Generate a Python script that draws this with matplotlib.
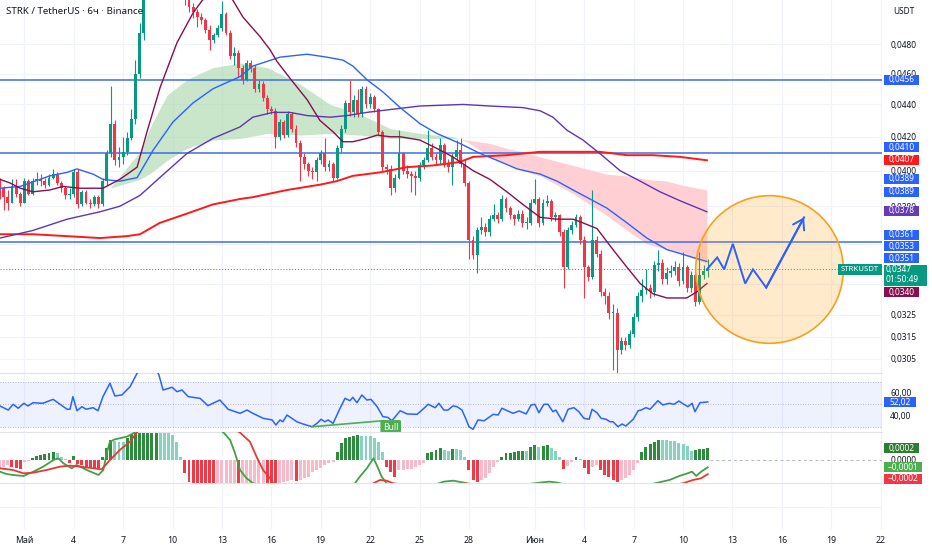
import numpy as np
import matplotlib.pyplot as plt
from matplotlib.patches import Rectangle
from matplotlib.ticker import FuncFormatter, NullLocator

plt.rcParams['font.family'] = ['Noto Sans', 'DejaVu Sans']

W, H = 932, 550
TXT = '#131722'
GRID = '#F0F3FA'
UP, DOWN = '#089981', '#F23645'

# 6h candles, 29 Apr 12:00 .. 11 Jun 12:00 (index 0..172)
first_open = 0.0393
closes = [
    0.0390, 0.0385, 0.0382, 0.0391, 0.0387, 0.0382, 0.0394, 0.0387, 0.0394, 0.0395,
    0.0394, 0.0392, 0.0396, 0.0398, 0.0393, 0.0390, 0.0386, 0.0387, 0.0399, 0.0381,
    0.0388, 0.0382, 0.0381, 0.0385, 0.0381, 0.0394, 0.0410, 0.0428, 0.0406, 0.0408,
    0.0411, 0.0419, 0.0431, 0.0460, 0.0488, 0.0525, 0.0560, 0.0595, 0.0570, 0.0615,
    0.0600, 0.0580, 0.0590, 0.0560, 0.0545, 0.0513, 0.0506, 0.0503, 0.0499, 0.0497,
    0.0490, 0.0483, 0.0486, 0.0491, 0.0501, 0.0488, 0.0472, 0.0474, 0.0464, 0.0456,
    0.0467, 0.0464, 0.0450, 0.0453, 0.0444, 0.0437, 0.0436, 0.0420, 0.0429, 0.0421,
    0.0434, 0.0425, 0.0416, 0.0408, 0.0404, 0.0400, 0.0399, 0.0406, 0.0410, 0.0402,
    0.0404, 0.0396, 0.0413, 0.0425, 0.0441, 0.0435, 0.0443, 0.0434, 0.0450, 0.0440,
    0.0445, 0.0437, 0.0423, 0.0402, 0.0401, 0.0390, 0.0396, 0.0410, 0.0400, 0.0398,
    0.0397, 0.0396, 0.0403, 0.0406, 0.0413, 0.0408, 0.0406, 0.0415, 0.0404, 0.0402,
    0.0408, 0.0412, 0.0404, 0.0393, 0.0362, 0.0354, 0.0367, 0.0369, 0.0366, 0.0373,
    0.0375, 0.0373, 0.0384, 0.0379, 0.0375, 0.0373, 0.0376, 0.0371, 0.0371, 0.0382,
    0.0384, 0.0371, 0.0382, 0.0383, 0.0374, 0.0375, 0.0366, 0.0348, 0.0367, 0.0370,
    0.0374, 0.0362, 0.0348, 0.0343, 0.0362, 0.0355, 0.0336, 0.0334, 0.0326, 0.0326,
    0.0309, 0.0313, 0.0311, 0.0316, 0.0324, 0.0334, 0.0337, 0.0338, 0.0336, 0.0349,
    0.0350, 0.0342, 0.0345, 0.0346, 0.0348, 0.0341, 0.0348, 0.0338, 0.0344, 0.0331,
    0.0344, 0.0346, 0.0347,
]
highs = [
    0.0396, 0.0391, 0.0389, 0.0395, 0.0395, 0.0388, 0.0396, 0.0395, 0.0396, 0.0399,
    0.0398, 0.0396, 0.0398, 0.0401, 0.0399, 0.0394, 0.0391, 0.0390, 0.0401, 0.0401,
    0.0389, 0.0389, 0.0384, 0.0386, 0.0386, 0.0396, 0.0412, 0.0452, 0.0430, 0.0414,
    0.0420, 0.0423, 0.0437, 0.0469, 0.0495, 0.0535, 0.0575, 0.0610, 0.0600, 0.0630,
    0.0620, 0.0605, 0.0605, 0.0595, 0.0565, 0.0548, 0.0520, 0.0509, 0.0505, 0.0502,
    0.0498, 0.0493, 0.0488, 0.0493, 0.0511, 0.0503, 0.0490, 0.0478, 0.0476, 0.0466,
    0.0469, 0.0469, 0.0466, 0.0456, 0.0455, 0.0446, 0.0439, 0.0438, 0.0431, 0.0430,
    0.0436, 0.0435, 0.0427, 0.0418, 0.0410, 0.0405, 0.0402, 0.0408, 0.0412, 0.0419,
    0.0406, 0.0405, 0.0415, 0.0427, 0.0443, 0.0456, 0.0446, 0.0450, 0.0452, 0.0452,
    0.0447, 0.0446, 0.0438, 0.0424, 0.0404, 0.0403, 0.0398, 0.0424, 0.0411, 0.0403,
    0.0400, 0.0400, 0.0405, 0.0408, 0.0424, 0.0416, 0.0410, 0.0419, 0.0416, 0.0407,
    0.0410, 0.0418, 0.0419, 0.0407, 0.0394, 0.0364, 0.0369, 0.0374, 0.0371, 0.0375,
    0.0381, 0.0377, 0.0386, 0.0385, 0.0380, 0.0376, 0.0378, 0.0378, 0.0374, 0.0384,
    0.0395, 0.0385, 0.0384, 0.0386, 0.0384, 0.0377, 0.0376, 0.0368, 0.0369, 0.0372,
    0.0376, 0.0375, 0.0364, 0.0349, 0.0389, 0.0364, 0.0357, 0.0338, 0.0336, 0.0330,
    0.0328, 0.0315, 0.0315, 0.0318, 0.0326, 0.0336, 0.0342, 0.0347, 0.0340, 0.0351,
    0.0357, 0.0352, 0.0348, 0.0349, 0.0351, 0.0350, 0.0356, 0.0349, 0.0346, 0.0346,
    0.0356, 0.0349, 0.0352,
]
lows = [
    0.0384, 0.0378, 0.0378, 0.0382, 0.0385, 0.0380, 0.0382, 0.0386, 0.0386, 0.0392,
    0.0391, 0.0390, 0.0391, 0.0395, 0.0392, 0.0388, 0.0384, 0.0384, 0.0385, 0.0379,
    0.0380, 0.0381, 0.0379, 0.0380, 0.0379, 0.0380, 0.0392, 0.0408, 0.0403, 0.0402,
    0.0404, 0.0409, 0.0418, 0.0428, 0.0457, 0.0483, 0.0520, 0.0550, 0.0555, 0.0565,
    0.0575, 0.0565, 0.0570, 0.0550, 0.0530, 0.0508, 0.0503, 0.0498, 0.0492, 0.0494,
    0.0488, 0.0476, 0.0481, 0.0485, 0.0489, 0.0486, 0.0470, 0.0466, 0.0458, 0.0453,
    0.0455, 0.0461, 0.0448, 0.0448, 0.0442, 0.0434, 0.0434, 0.0413, 0.0418, 0.0419,
    0.0420, 0.0423, 0.0414, 0.0394, 0.0401, 0.0397, 0.0395, 0.0394, 0.0404, 0.0400,
    0.0400, 0.0394, 0.0395, 0.0411, 0.0423, 0.0433, 0.0432, 0.0432, 0.0432, 0.0438,
    0.0438, 0.0435, 0.0421, 0.0400, 0.0398, 0.0386, 0.0388, 0.0395, 0.0398, 0.0396,
    0.0388, 0.0386, 0.0394, 0.0401, 0.0405, 0.0406, 0.0403, 0.0404, 0.0402, 0.0399,
    0.0392, 0.0406, 0.0402, 0.0391, 0.0352, 0.0352, 0.0345, 0.0365, 0.0364, 0.0364,
    0.0372, 0.0371, 0.0372, 0.0377, 0.0373, 0.0370, 0.0372, 0.0369, 0.0368, 0.0370,
    0.0381, 0.0369, 0.0370, 0.0380, 0.0372, 0.0372, 0.0364, 0.0338, 0.0347, 0.0365,
    0.0369, 0.0360, 0.0333, 0.0341, 0.0342, 0.0353, 0.0334, 0.0330, 0.0323, 0.0300,
    0.0299, 0.0307, 0.0309, 0.0310, 0.0315, 0.0322, 0.0331, 0.0335, 0.0333, 0.0334,
    0.0346, 0.0340, 0.0340, 0.0343, 0.0344, 0.0339, 0.0340, 0.0336, 0.0336, 0.0329,
    0.0330, 0.0342, 0.0343,
]

# moving averages: (candle index, price)
ma20_idx = [0.1, 2.5, 5.0, 8.1, 12.2, 15.4, 19.5, 24.4, 25.1, 29.2, 33.4, 35.8, 39.0, 43.1,
            47.0, 49.2, 52.5, 55.0, 56.7, 59.1, 63.3, 65.7, 67.4, 70.5, 74.7, 77.8, 81.0,
            83.4, 85.8, 89.2, 91.7, 94.8, 97.3, 102.1, 106.2, 110.1, 115.0, 119.1, 123.2,
            127.1, 131.3, 135.4, 139.3, 141.7, 145.1, 149.0, 152.4, 155.6, 158.7, 162.1,
            166.9, 169.4, 171.8]
ma20 = [0.0395, 0.0393, 0.0390, 0.0388, 0.0389, 0.0391, 0.0390, 0.0390, 0.0390, 0.0395,
        0.0402, 0.0423, 0.0451, 0.0481, 0.0502, 0.0511, 0.0520, 0.0519, 0.0511, 0.0499,
        0.0485, 0.0476, 0.0468, 0.0457, 0.0443, 0.0430, 0.0423, 0.0417, 0.0417, 0.0419,
        0.0421, 0.0420, 0.0420, 0.0418, 0.0413, 0.0408, 0.0400, 0.0395, 0.0388, 0.0381,
        0.0374, 0.0373, 0.0373, 0.0371, 0.0368, 0.0357, 0.0348, 0.0340, 0.0335, 0.0333,
        0.0333, 0.0336, 0.0340]
ma50_idx = [0.1, 5.0, 12.2, 16.4, 18.8, 22.7, 25.1, 29.2, 33.4, 37.3, 42.1, 47.0, 51.8,
            58.4, 61.5, 68.1, 74.7, 79.5, 83.4, 85.8, 89.2, 93.1, 97.3, 102.1, 106.2,
            111.8, 116.7, 120.8, 125.7, 131.3, 135.4, 139.3, 143.4, 147.5, 152.4, 157.2,
            162.1, 165.3, 168.4, 171.8]
ma50 = [0.0390, 0.0391, 0.0397, 0.0399, 0.0401, 0.0398, 0.0395, 0.0394, 0.0396, 0.0412,
        0.0429, 0.0441, 0.0450, 0.0458, 0.0465, 0.0471, 0.0473, 0.0471, 0.0469, 0.0465,
        0.0456, 0.0448, 0.0438, 0.0428, 0.0422, 0.0416, 0.0410, 0.0406, 0.0401, 0.0398,
        0.0394, 0.0389, 0.0384, 0.0379, 0.0371, 0.0363, 0.0357, 0.0355, 0.0353, 0.0351]
ma100_idx = [0.1, 8.1, 16.4, 24.4, 29.2, 34.1, 38.9, 45.5, 51.8, 58.4, 61.5, 66.4, 70.5,
             74.7, 80.3, 84.4, 89.2, 95.6, 102.1, 112.6, 119.1, 127.1, 131.3, 134.4,
             137.8, 141.7, 145.8, 150.7, 155.6, 160.4, 165.3, 171.8]
ma100 = [0.0363, 0.0367, 0.0373, 0.0377, 0.0380, 0.0386, 0.0396, 0.0410, 0.0419, 0.0426,
         0.0432, 0.0435, 0.0435, 0.0433, 0.0432, 0.0433, 0.0435, 0.0437, 0.0439, 0.0440,
         0.0439, 0.0438, 0.0436, 0.0432, 0.0424, 0.0418, 0.0410, 0.0400, 0.0394, 0.0388,
         0.0383, 0.0377]
ma200_idx = [0.1, 8.1, 16.4, 24.4, 30.9, 34.1, 38.9, 45.5, 51.8, 58.4, 61.5, 69.8, 77.8,
             81.9, 85.8, 92.4, 98.9, 105.3, 111.8, 115.0, 123.2, 131.3, 139.3, 145.8,
             152.4, 158.7, 165.3, 171.8]
ma200 = [0.0365, 0.0365, 0.0364, 0.0363, 0.0364, 0.0365, 0.0371, 0.0376, 0.0381, 0.0384,
         0.0385, 0.0389, 0.0392, 0.0394, 0.0397, 0.0399, 0.0402, 0.0403, 0.0405, 0.0408,
         0.0409, 0.0411, 0.0411, 0.0411, 0.0409, 0.0409, 0.0408, 0.0406]

# cloud between two averages
cloud_idx = [26.8, 34.1, 37.0, 40.7, 45.5, 51.8, 58.4, 65.0, 73.0, 80.3, 87.5, 94.8, 102.1,
             110.1, 113.5, 119.1, 123.2, 127.1, 131.3, 139.3, 147.5, 152.4, 157.2, 162.1,
             165.3, 171.8]
cloud_fast = [0.0390, 0.0411, 0.0428, 0.0446, 0.0456, 0.0464, 0.0467, 0.0464, 0.0453,
              0.0440, 0.0434, 0.0425, 0.0422, 0.0420, 0.0417, 0.0408, 0.0404, 0.0400,
              0.0397, 0.0387, 0.0375, 0.0367, 0.0360, 0.0357, 0.0355, 0.0350]
cloud_slow = [0.0390, 0.0395, 0.0399, 0.0406, 0.0413, 0.0418, 0.0419, 0.0422, 0.0421,
              0.0422, 0.0421, 0.0419, 0.0419, 0.0419, 0.0418, 0.0416, 0.0413, 0.0411,
              0.0408, 0.0403, 0.0398, 0.0397, 0.0395, 0.0394, 0.0392, 0.0389]

levels = [0.0456, 0.0410, 0.0361]
last_price = 0.0347

# projected path (index, price)
path_idx = [171.8, 174.3, 176.0, 178.1, 181.1, 183.0, 186.2, 195.4]
path_price = [0.0347, 0.0353, 0.0347, 0.0360, 0.0340, 0.0347, 0.0338, 0.0374]
circle_center = (187.0, 0.0347)

# RSI
rsi_idx = [0.1, 2.1, 3.3, 4.5, 5.9, 6.9, 8.1, 10.5, 13.0, 14.7, 16.4, 17.1, 17.8, 18.8,
           20.0, 21.0, 22.7, 23.9, 25.1, 26.8, 28.0, 29.7, 31.7, 33.4, 35.5, 37.5, 38.7,
           39.7, 41.9, 43.1, 44.3, 45.8, 48.7, 50.6, 53.5, 55.5, 58.4, 60.1, 61.5, 64.0,
           66.2, 67.1, 68.1, 68.8, 69.8, 72.2, 73.7, 75.9, 77.1, 78.1, 79.0, 79.8, 81.0,
           82.7, 83.9, 85.1, 85.8, 86.8, 88.0, 89.2, 90.2, 91.7, 93.1, 94.3, 95.3, 97.3,
           99.0, 101.4, 102.6, 104.1, 105.8, 106.7, 107.9, 108.9, 110.1, 111.1, 112.3,
           113.3, 114.0, 115.0, 116.2, 117.7, 119.9, 121.1, 122.0, 124.7, 126.2, 127.9,
           129.1, 130.0, 131.0, 132.2, 133.2, 134.4, 135.1, 136.8, 138.1, 139.5, 140.7,
           141.9, 143.2, 143.9, 145.1, 146.1, 147.3, 148.3, 149.0, 150.2, 151.2, 152.1,
           153.9, 155.1, 155.8, 157.0, 158.0, 159.9, 161.1, 162.6, 163.8, 165.0, 166.2,
           167.2, 168.2, 168.9, 170.1, 172.0]
rsi = [48.4, 44.8, 49.9, 46.4, 50.8, 48.4, 51.3, 50.8, 54.3, 49.9, 45.5, 45.5, 56.7, 44.2,
       47.8, 45.5, 46.9, 44.2, 56.7, 68.6, 57.3, 58.2, 65.6, 77.5, 86, 84, 76, 62.6, 65,
       61.1, 62.6, 56.7, 55.2, 48.7, 53.7, 45.5, 41.9, 44.8, 41.9, 37.5, 36, 31.5, 36,
       34.4, 40.4, 34.4, 32.4, 30, 33, 36.6, 34.4, 36, 33, 46.4, 55.2, 53.1, 56.1, 51.3,
       58.2, 53.7, 54.3, 47.8, 38.9, 38.3, 35.3, 44.2, 41.3, 41, 44.8, 49.9, 46.9, 50.8,
       44.8, 44.8, 48.4, 47.8, 44.8, 36.6, 30, 27.7, 36, 35.3, 41, 40.4, 46.4, 41.9, 44,
       41.3, 49.3, 49.9, 42.4, 49.9, 49.9, 43.3, 44.8, 34.4, 45.5, 46.9, 43.3, 37.5, 36.6,
       45.5, 42.4, 37.5, 36.6, 34.4, 34.4, 30, 32.4, 30.6, 36.6, 44.2, 44.8, 46.9, 45.5,
       53.1, 49.3, 50.8, 49.9, 52.8, 49.9, 47.8, 50.8, 43.3, 51.3, 52.02]
bull_idx = [75.9, 93.1]
bull_rsi = [30.0, 35.3]

# MACD (values in units of 1e-4)
hist = [
    -1.35, -1.08, -0.81, -1.08, -1.35, -1.40, -0.27, -0.11, 0.27, 0.65,
    0.81, 0.98, 1.08, 1.35, 1.08, 0.43, 0.11, -0.54, 0.65, -0.65,
    -0.81, -1.08, -1.19, -1.25, -1.35, 0.43, 1.90, 3.25, 3.14, 2.98,
    2.90, 3.60, 4.20, 5.00, 6.00, 7.00, 7.50, 8.00, 8.20, 7.80,
    7.00, 5.80, 4.07, 2.98, 0.43, -2.17, -3.52, -4.50, -5.20, -5.60,
    -5.80, -6.00, -6.10, -6.00, -5.70, -5.40, -5.10, -4.80, -5.00, -4.80,
    -4.50, -4.30, -4.10, -4.00, -3.90, -4.20, -4.40, -4.50, -4.00, -3.52,
    -3.45, -3.25, -3.40, -3.25, -2.98, -2.71, -1.90, -1.63, -1.35, -0.81,
    -0.54, -0.27, 1.35, 2.71, 3.52, 3.79, 3.90, 4.01, 3.95, 3.93,
    3.90, 3.52, 2.98, 1.35, -1.08, -1.90, -2.71, -1.63, -1.60, -1.52,
    -1.41, -1.19, -0.81, -0.54, 1.08, 1.35, 1.63, 2.00, 1.63, 1.52,
    1.73, 1.72, 1.63, 0.43, -1.63, -3.25, -3.52, -3.25, -2.98, -2.17,
    -1.08, -0.27, 0.43, 1.08, 1.19, 1.35, 1.46, 1.50, 1.45, 2.06,
    2.44, 2.06, 2.28, 2.44, 1.90, 1.46, 0.54, -1.52, -0.98, -0.27,
    0.43, 0.11, -1.35, -2.28, -1.08, -0.81, -1.63, -2.44, -2.82, -3.25,
    -3.52, -3.25, -2.98, -2.44, -1.63, -0.54, 1.35, 2.06, 2.60, 2.98,
    3.25, 3.20, 3.18, 3.14, 3.10, 2.82, 2.60, 2.28, 1.52, 1.63,
    1.79, 1.84, 1.90,
]
macd_idx = [0.1, 1.7, 3.3, 5.8, 8.2, 10.6, 13.1, 14.3, 15.5, 17.5, 18.7, 21.2, 24.0, 25.2,
            26.0, 26.8, 28.0, 30.9, 32.5, 33.3, 38, 45, 50, 54.4, 56.0, 57.2, 58.4, 60.0,
            61.6, 66, 75, 82, 86.3, 87.5, 89.2, 90.8, 91.6, 92.8, 94.0, 100, 106, 107.9,
            110.2, 113.3, 118, 125, 131.9, 133.5, 135.6, 136.8, 145, 150, 158.5, 162.7,
            165.1, 167.1, 168.2, 169.2, 170.4, 172.0]
macd = [-1.90, -2.28, -2.44, -2.60, -1.90, -1.08, 0.0, 0.27, -0.54, -1.35, -0.81, -1.63,
        -2.44, -1.63, 1.08, 2.98, 3.36, 3.79, 4.34, 4.8, 12, 10, 7, 4.45, 3.25, 1.08,
        -1.63, -2.98, -3.79, -7, -6.5, -5, -3.79, -2.71, -1.35, 0.27, -0.81, -2.71,
        -3.79, -5, -3.95, -3.52, -3.36, -3.75, -5, -4.2, -3.63, -3.52, -3.69, -3.90,
        -6, -6.5, -3.9, -3.25, -2.60, -2.17, -1.90, -2.60, -1.90, -1.19]
signal_idx = [0.1, 3.3, 5.8, 8.2, 11.4, 14.7, 17.1, 19.5, 22.8, 24.8, 26.8, 29.2, 31.7,
              33.3, 40, 50, 58.4, 60.8, 62.4, 64.0, 65.7, 66.5, 75, 85, 90.8, 92.4, 94.0,
              95.6, 105, 113.3, 125, 140, 150, 166.0, 168.4, 170.4, 172.0]
signal = [-1.35, -1.63, -2.17, -2.06, -1.63, -1.08, -0.92, -1.08, -1.35, -1.52, 0.0, 1.63,
          2.98, 4.45, 9, 8, 4.45, 2.98, 0.54, -1.63, -2.98, -3.79, -6.5, -5.5, -3.79,
          -3.25, -3.36, -3.79, -4.5, -3.8, -4.6, -5.5, -5.5, -3.79, -3.25, -2.98, -2.3]

date_idx = [6, 18, 30, 42, 54, 66, 78, 90, 102, 114, 130, 142, 154, 166, 178, 190, 202, 214]
date_lbl = ['Май', '4', '7', '10', '13', '16', '19', '22', '25', '28',
            'Июн', '4', '7', '10', '13', '16', '19', '22']

# ---------------------------------------------------------------
fig = plt.figure(figsize=(W / 100, H / 100), dpi=100)
fig.patch.set_facecolor('white')
XL = (0.097, 214.33)


def pane(top, bottom):
    ax = fig.add_axes([0, 1 - bottom / H, 882 / W, (bottom - top) / H])
    for s in ax.spines.values():
        s.set_visible(False)
    ax.set_xlim(*XL)
    ax.set_xticks([])
    ax.yaxis.tick_right()
    ax.tick_params(axis='y', length=0, labelsize=6, labelcolor=TXT, pad=6)
    for d in date_idx:
        ax.axvline(d, color=GRID, lw=0.9, zorder=0)
    return ax


ax = pane(0, 373)
ax_rsi = pane(373, 432)
ax_macd = pane(432, 483)
ax_bot = pane(483, 529)
for a in (ax_rsi, ax_macd, ax_bot):
    a.spines['top'].set_visible(True)
    a.spines['top'].set_color('#E0E3EB')
    a.spines['top'].set_linewidth(0.8)

# main pane
ax.set_yscale('log')
ax.set_ylim(0.02989, 0.05114)
yt = [0.0305, 0.0315, 0.0325, 0.0380, 0.0400, 0.0420, 0.0440, 0.0460, 0.0480]
ax.set_yticks(yt)
ax.yaxis.set_minor_locator(NullLocator())
ax.yaxis.set_major_formatter(FuncFormatter(lambda v, p: f'{v:.4f}'.replace('.', ',')))
for v in yt + [0.0340, 0.0360]:
    ax.axhline(v, color=GRID, lw=0.8, zorder=0)

ci = np.array(cloud_idx)
cf = np.array(cloud_fast)
cs = np.array(cloud_slow)
ax.fill_between(ci, cf, cs, where=cf >= cs, interpolate=True, color='#A5D6A7', alpha=0.6, lw=0, zorder=1)
ax.fill_between(ci, cf, cs, where=cf < cs, interpolate=True, color='#FFCDD2', alpha=0.95, lw=0, zorder=1)

for lv in levels:
    ax.axhline(lv, color='#3D6FE8', lw=1.1, zorder=2)
ax.axhline(last_price, color=UP, lw=0.7, ls=(0, (1, 2)), zorder=2)

idx = np.arange(len(closes))
c = np.array(closes)
o = np.array([first_open] + closes[:-1])
col = np.where(c >= o, UP, DOWN)
ax.vlines(idx, lows, highs, colors=col, lw=0.8, zorder=3)
ax.bar(idx, np.maximum(np.abs(c - o), c * 0.0015), bottom=np.minimum(o, c),
       width=0.7, color=col, lw=0, zorder=3)

ax.plot(ma200_idx, ma200, color='#FF1A1A', lw=1.4, zorder=4)
ax.plot(ma100_idx, ma100, color='#5E35B1', lw=1.0, zorder=4)
ax.plot(ma50_idx, ma50, color='#2962FF', lw=1.0, zorder=4)
ax.plot(ma20_idx, ma20, color='#880E4F', lw=1.0, zorder=4)

ax.scatter([circle_center[0]], [circle_center[1]], s=11300, facecolor=(1.0, 0.6, 0.0, 0.2),
           edgecolor='#F5A11C', lw=1.2, zorder=6)
ax.plot(path_idx, path_price, color='#2962FF', lw=1.4, zorder=7, solid_joinstyle='miter')
ax.annotate('', xy=(path_idx[-1], path_price[-1]), xytext=(path_idx[-2], path_price[-2]),
            arrowprops=dict(arrowstyle='->,head_length=0.7,head_width=0.45', color='#2962FF',
                            lw=1.4, shrinkA=0, shrinkB=0), zorder=7)

# RSI pane
ax_rsi.set_ylim(25.3, 77.7)
ax_rsi.axhspan(30, 70, color='#2962FF', alpha=0.08, lw=0, zorder=0)
for lv in (70, 50, 30):
    ax_rsi.axhline(lv, color='#A3A6AF', lw=0.6, ls=(0, (1, 2)), zorder=1)
ax_rsi.plot(rsi_idx, rsi, color='#2962FF', lw=1.1, zorder=3)
ax_rsi.plot(bull_idx, bull_rsi, color='#4CAF50', lw=1.2, zorder=3)
ax_rsi.text(95.0, 29.6, 'Bull', color='white', fontsize=6.2, ha='center', va='center', zorder=4,
            bbox=dict(boxstyle='round,pad=0.3,rounding_size=0.15', fc='#4CAF50', ec='none'))
ax_rsi.set_yticks([40, 60])
ax_rsi.set_yticklabels(['40,00', '60,00'])

# MACD pane
ax_macd.set_ylim(-0.000374, 0.000455)
hv = np.array(hist) * 1e-4
prev = np.concatenate([[hv[0]], hv[:-1]])
hcol = np.where(hv >= 0, np.where(hv > prev, '#2E8B3E', '#86D3BF'),
                np.where(hv < prev, '#F03A47', '#F8B9C8'))
ax_macd.bar(idx, hv, width=0.72, color=hcol, lw=0, zorder=2)
ax_macd.hlines(0, 172.6, XL[1], color='#B2B5BE', lw=0.7, ls=(0, (3, 3)), zorder=1)
ax_macd.plot(macd_idx, np.array(macd) * 1e-4, color='#43A047', lw=1.3, zorder=3)
ax_macd.plot(signal_idx, np.array(signal) * 1e-4, color='#E53935', lw=1.3, zorder=3)
ax_macd.set_yticks([0])
ax_macd.set_yticklabels(['0,0000'])

# bottom pane with date axis
ax_bot.set_ylim(0, 1)
ax_bot.set_yticks([])
ax_bot.axhline(0.48, color=GRID, lw=0.8, zorder=0)
ax_bot.set_xticks(date_idx)
ax_bot.set_xticklabels(date_lbl)
ax_bot.tick_params(axis='x', length=0, labelsize=6.3, labelcolor=TXT, pad=5)
for t, lab in zip(ax_bot.get_xticklabels(), date_lbl):
    if not lab.isdigit():
        t.set_fontweight('bold')


# price scale tags (figure pixels)
def tag(y, text, color, x0=884, w=35, h=10, fs=6):
    fig.patches.append(Rectangle((x0 / W, 1 - (y + h / 2) / H), w / W, h / H,
                                 transform=fig.transFigure, fc=color, ec='none', zorder=5))
    fig.text((x0 + w / 2) / W, 1 - y / H, text, color='white', fontsize=fs,
             ha='center', va='center', zorder=6)


tag(79.7, '0,0456', '#2962FF')
tag(147.0, '0,0410', '#2962FF')
tag(159.5, '0,0407', '#FF1A1A')
tag(179.0, '0,0389', '#2962FF')
tag(191.5, '0,0389', '#2962FF')
tag(211.0, '0,0378', '#673AB7')
tag(234.7, '0,0361', '#2962FF')
tag(246.3, '0,0353', '#2962FF')
tag(258.0, '0,0351', '#2962FF')
tag(275.3, '', UP, w=43, h=21)
fig.text(886 / W, 1 - 269.5 / H, '0,0347', color='white', fontsize=6, va='center', zorder=6)
fig.text(886 / W, 1 - 280 / H, '01:50:49', color='white', fontsize=6, va='center', zorder=6)
tag(292.3, '0,0340', '#880E4F')
tag(269.8, 'STRKUSDT', UP, x0=838, w=44, h=11, fs=5.6)
tag(402.0, '52,02', '#2962FF', w=32)
tag(448.0, '0,0002', '#2E7D32')
tag(467.3, '\u22120,0001', '#4CAF50', w=38)
tag(478.8, '\u22120,0002', '#F23645', w=38)

fig.text(904 / W, 1 - 11 / H, 'USDT', fontsize=6, color=TXT, ha='center', va='center')
fig.text(6 / W, 1 - 11 / H, 'STRK / TetherUS · 6ч · Binance', fontsize=7, color=TXT,
         ha='left', va='center')

fig.savefig('out.png', dpi=100, facecolor='white')
